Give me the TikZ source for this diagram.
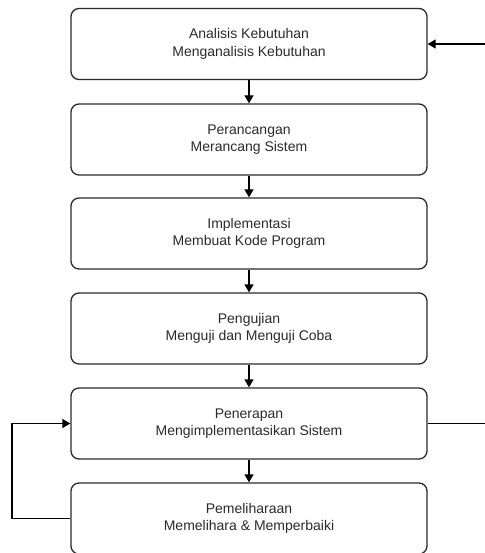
\documentclass[tikz,border=0pt]{standalone}
\usepackage{fontspec}
\setmainfont{Liberation Sans}
\usetikzlibrary{arrows.meta}
\definecolor{ink}{HTML}{2A2A2A}
\begin{document}
\begin{tikzpicture}[x=1pt,y=-1pt,
  stepbox/.style={draw=ink,line width=1.3pt,rounded corners=8pt,minimum width=356pt,minimum height=71pt,align=center,text=ink,font=\fontsize{14}{17.5}\selectfont,inner sep=0pt},
  conn/.style={draw=black,line width=1.3pt,-{Triangle[length=8pt,width=9pt]}},
  line/.style={draw=black,line width=1.3pt}]
\useasboundingbox (0,0) rectangle (484,553);
\node[stepbox] (a) at (249,44) {Analisis Kebutuhan\\Menganalisis Kebutuhan};
\node[stepbox] (b) at (249,139.5) {Perancangan\\Merancang Sistem};
\node[stepbox] (c) at (249,233.5) {Implementasi\\Membuat Kode Program};
\node[stepbox] (d) at (249,328.5) {Pengujian\\Menguji dan Menguji Coba};
\node[stepbox] (e) at (249,423.5) {Penerapan\\Mengimplementasikan Sistem};
\node[stepbox] (f) at (249,518.5) {Pemeliharaan\\Memelihara \& Memperbaiki};
\draw[conn] (a) -- (b);
\draw[conn] (b) -- (c);
\draw[conn] (c) -- (d);
\draw[conn] (d) -- (e);
\draw[conn] (e) -- (f);
\coordinate (r) at (490,0);
\draw[conn] (e.east) -- (e.east -| r) -- (a.east -| r) -- (a.east);
\coordinate (l) at (12,0);
\draw[conn] (f.west) -- (f.west -| l) -- (e.west -| l) -- (e.west);
\end{tikzpicture}
\end{document}
